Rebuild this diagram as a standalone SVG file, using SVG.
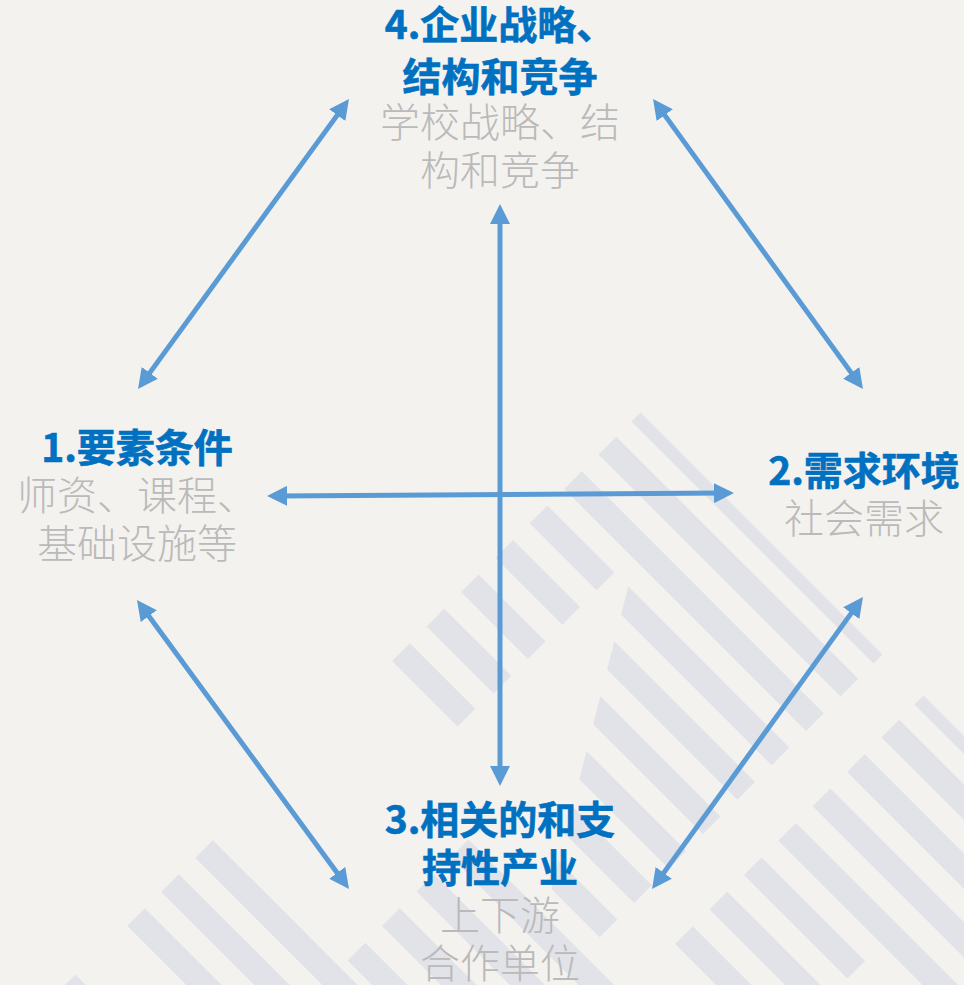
<svg xmlns="http://www.w3.org/2000/svg" width="964" height="985" viewBox="0 0 964 985">
<defs>
<style>
.bold{font-family:"Noto Sans CJK SC","Noto Sans",sans-serif;font-weight:700;font-size:39px;fill:#0070c0;text-anchor:middle;stroke:#0070c0;stroke-width:0.6px}
.sub{font-family:"Noto Sans CJK SC","Noto Sans",sans-serif;font-weight:300;font-size:40px;fill:#bababa;text-anchor:middle}
.conn{stroke:#5b9bd5;stroke-width:5;fill:none;marker-start:url(#ah);marker-end:url(#ah)}
.st{fill:#e1e3e8}
</style>
<marker id="ah" markerUnits="userSpaceOnUse" markerWidth="20" markerHeight="20" viewBox="0 0 20 20" refX="10" refY="10" orient="auto-start-reverse">
<path d="M0,0 L20,10 L0,20 z" fill="#5b9bd5"/>
</marker>
<clipPath id="mclip" clipPathUnits="userSpaceOnUse">
<polygon points="655.3,480 1000,480 1000,1000 523.2,1000"/>
</clipPath>
</defs>
<rect x="0" y="0" width="964" height="985" fill="#f4f2ef"/>
<g id="stripes" class="st">
<g transform="matrix(0.5 0.5 0.5 -0.5 0 0)">
<rect x="1053" y="210" width="484" height="18"/>
<rect x="1053" y="144" width="484" height="35.4"/>
<rect x="1053" y="75.2" width="484" height="35.4"/>
<rect x="1053" y="6.4" width="134" height="35.4"/>
<rect x="1053" y="-62.4" width="134" height="35.4"/>
<rect x="1053" y="-131.2" width="134" height="35.4"/>
<rect x="1053" y="-200" width="134" height="35.4"/>
<rect x="1053" y="-268.8" width="131" height="35.4"/>
<rect x="1308" y="-406.4" width="800" height="35.4"/>
<rect x="1308" y="-475.2" width="800" height="35.4"/>
<rect x="1308" y="-544" width="800" height="35.4"/>
<rect x="1308" y="-612.8" width="800" height="35.4"/>
<rect x="1053" y="-662.7" width="1000" height="35.4"/>
<rect x="1053" y="-730.7" width="1000" height="35.4"/>
<rect x="1053" y="-798.7" width="1000" height="35.4"/>
<rect x="1050" y="-934.7" width="300" height="35.4"/>
<rect x="1619" y="210" width="500" height="18"/>
<rect x="1619" y="144" width="500" height="35.4"/>
<rect x="1619" y="75.2" width="500" height="35.4"/>
<rect x="1619" y="6.4" width="500" height="35.4"/>
<rect x="1619" y="-62.4" width="500" height="35.4"/>
<rect x="1619" y="-131.2" width="207" height="35.4"/>
<rect x="1619" y="-200" width="500" height="35.4"/>
<rect x="1619" y="-268.8" width="500" height="35.4"/>
</g>
<g clip-path="url(#mclip)">
<g transform="matrix(0.5 0.5 0.5 -0.5 0 0)">
<rect x="1150" y="6.4" width="387" height="35.4"/>
<rect x="1150" y="-62.4" width="387" height="35.4"/>
<rect x="1150" y="-131.2" width="387" height="35.4"/>
<rect x="1150" y="-200" width="387" height="35.4"/>
<rect x="1150" y="-268.8" width="387" height="35.4"/>
<rect x="1150" y="-337.6" width="387" height="35.4"/>
</g>
</g>
</g>
<g id="connectors">
<line class="conn" x1="500" y1="214" x2="500" y2="776"/>
<line class="conn" x1="277" y1="495.9" x2="724" y2="493.1"/>
<line class="conn" x1="343.1" y1="107.1" x2="143.9" y2="380.9"/>
<line class="conn" x1="658.9" y1="107.1" x2="857.1" y2="380.9"/>
<line class="conn" x1="142.9" y1="608.1" x2="343.1" y2="880.9"/>
<line class="conn" x1="857.1" y1="605.1" x2="657.9" y2="880.9"/>
</g>
<g id="node4">
<text class="bold"><tspan x="500" y="39">4.企业战略、</tspan><tspan x="500" y="90.5">结构和竞争</tspan></text>
<text class="sub"><tspan x="500" y="137">学校战略、结</tspan><tspan x="500" y="185">构和竞争</tspan></text>
</g>
<g id="node1">
<text class="bold" x="137" y="462">1.要素条件</text>
<text class="sub"><tspan x="137" y="510">师资、课程、</tspan><tspan x="137" y="558">基础设施等</tspan></text>
</g>
<g id="node2">
<text class="bold" x="864" y="485">2.需求环境</text>
<text class="sub" x="864" y="533">社会需求</text>
</g>
<g id="node3">
<text class="bold"><tspan x="500" y="833.5">3.相关的和支</tspan><tspan x="500" y="882">持性产业</tspan></text>
<text class="sub"><tspan x="500" y="930">上下游</tspan><tspan x="500" y="978">合作单位</tspan></text>
</g>
</svg>
